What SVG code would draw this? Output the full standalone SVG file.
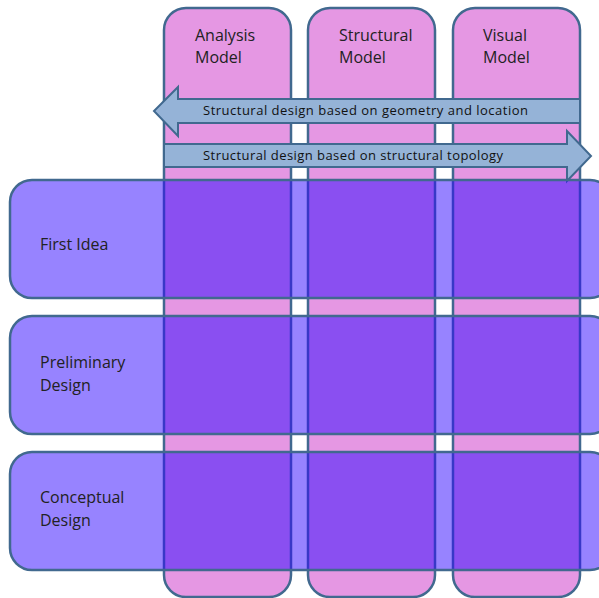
<svg xmlns="http://www.w3.org/2000/svg" width="599" height="598" viewBox="0 0 599 598">
  <style>
    .col { fill: #e597e3; stroke: #41698f; stroke-width: 2.5; }
    .row { fill: #2f07ff; fill-opacity: 0.5; stroke: #41698f; stroke-width: 2.5; }
    .arrow { fill: #95b3d7; stroke: #41698f; stroke-width: 2; stroke-linejoin: miter; }
    .lbl { font-family: "Open Sans", "Noto Sans", sans-serif; font-size: 16px; fill: #222; }
    .albl { font-family: "Open Sans", "Noto Sans", sans-serif; font-size: 13px; fill: #111; }
  </style>

  <!-- model columns -->
  <g id="col-analysis">
    <rect class="col" x="164" y="8" width="127" height="589" rx="22"/>
    <text class="lbl" x="195" y="41">Analysis</text>
    <text class="lbl" x="195" y="63">Model</text>
  </g>
  <g id="col-structural">
    <rect class="col" x="308" y="8" width="127" height="589" rx="22"/>
    <text class="lbl" x="339" y="41">Structural</text>
    <text class="lbl" x="339" y="63">Model</text>
  </g>
  <g id="col-visual">
    <rect class="col" x="453" y="8" width="127" height="589" rx="22"/>
    <text class="lbl" x="483" y="41">Visual</text>
    <text class="lbl" x="483" y="63">Model</text>
  </g>

  <!-- block arrows between models -->
  <g id="connectors">
    <g id="arrow-geometry">
      <path class="arrow" d="M580,99 L178,99 L178,87 L154,111 L178,136 L178,123 L580,123 Z"/>
      <text class="albl" x="203" y="115" textLength="325" lengthAdjust="spacing">Structural design based on geometry and location</text>
    </g>
    <g id="arrow-topology">
      <path class="arrow" d="M164,144 L567,144 L567,131 L591,156 L567,181 L567,167 L164,167 Z"/>
      <text class="albl" x="203" y="160" textLength="300" lengthAdjust="spacing">Structural design based on structural topology</text>
    </g>
  </g>

  <!-- design phase rows -->
  <g id="row-first-idea">
    <rect class="row" x="10" y="180" width="602" height="118" rx="22"/>
    <text class="lbl" x="40" y="250">First Idea</text>
  </g>
  <g id="row-preliminary">
    <rect class="row" x="10" y="316" width="602" height="118" rx="22"/>
    <text class="lbl" x="40" y="368">Preliminary</text>
    <text class="lbl" x="40" y="391">Design</text>
  </g>
  <g id="row-conceptual">
    <rect class="row" x="10" y="452" width="602" height="118" rx="22"/>
    <text class="lbl" x="40" y="503">Conceptual</text>
    <text class="lbl" x="40" y="526">Design</text>
  </g>
</svg>
